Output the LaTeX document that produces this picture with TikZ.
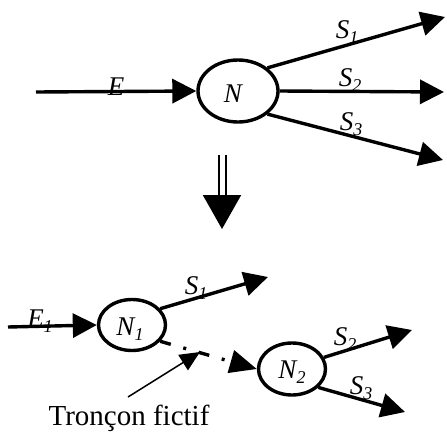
\documentclass[tikz,border=0pt]{standalone}
\usepackage{fontspec}
\setmainfont{Liberation Serif}
\usepackage{tikz}
\usetikzlibrary{arrows.meta,positioning,shapes.geometric}
\definecolor{flowblack}{HTML}{000000}
\newcommand\sublbl[2]{#1\raisebox{-0.35ex}{\fontsize{18}{18}\selectfont #2}}

\begin{document}
\begin{tikzpicture}[
    x=1pt,
    y=-1pt,
    knot/.style={ellipse, draw=flowblack, line width=3.4pt, inner sep=0pt},
    lbl/.style={font=\fontsize{27}{29}\selectfont\itshape, inner sep=0pt},
    flow/.style={-{Triangle[length=24pt,width=24pt]}, line width=3.4pt, draw=flowblack},
    fictive/.style={-{Triangle[length=27pt,width=23pt]}, line width=3.4pt, draw=flowblack, dash pattern=on 11pt off 13pt on 3pt off 13pt},
    pointer/.style={-{Triangle[length=20pt,width=18pt]}, line width=1.5pt, draw=flowblack}
  ]
    \useasboundingbox (0,0) rectangle (447,434);

    % before the split
    \node[lbl] (lE) at (116,87) {E};
    \node[lbl] (lS1) at (347,32) {\sublbl{S}{1}};
    \node[lbl] (lS2) at (350,80) {\sublbl{S}{2}};
    \node[lbl] (lS3) at (351,124) {\sublbl{S}{3}};
    \node[knot, minimum width=80pt, minimum height=62pt] (N) at (238,91) {};
    \node[lbl] (lN) at (233,94) {N};

    \coordinate (eIn) at (36,92);
    \coordinate (s1Out) at (445,17);
    \coordinate (s2Out) at (444,92);
    \coordinate (s3Out) at (443,160);

    \draw[flow] (eIn) -- (N.west);
    \draw[flow] (N.north east) -- (s1Out);
    \draw[flow] (N.east) -- (s2Out);
    \draw[flow] (N.south east) -- (s3Out);

    % implication
    \coordinate (implTop) at (222,155);
    \coordinate (implBot) at (222,229);
    \draw[-{Triangle[length=34pt,width=38pt]}, double=white, double distance=5pt, line width=2pt, draw=flowblack] (implTop) -- (implBot);

    % after the split
    \node[lbl] (lE1) at (40,321) {\sublbl{E}{1}};
    \node[lbl] (lS1b) at (196,288) {\sublbl{S}{1}};
    \node[lbl] (lS2b) at (345,339) {\sublbl{S}{2}};
    \node[lbl] (lS3b) at (361,388) {\sublbl{S}{3}};
    \node[knot, minimum width=67pt, minimum height=51pt] (N1) at (132,325) {};
    \node[lbl] (lN1) at (130,329) {\sublbl{N}{1}};
    \node[knot, minimum width=67pt, minimum height=52pt] (N2) at (292,369) {};
    \node[lbl] (lN2) at (292,372) {\sublbl{N}{2}};

    \coordinate (e1In) at (8,327);
    \coordinate (s1bOut) at (268,277);
    \coordinate (s2bOut) at (412,330);
    \coordinate (s3bOut) at (405,412);

    \draw[flow] (e1In) -- (N1.west);
    \draw[flow] (N1.30) -- (s1bOut);
    \draw[fictive] (N1.-30) -- (N2.west);
    \draw[flow] (N2.20) -- (s2bOut);
    \draw[flow] (N2.-35) -- (s3bOut);

    \node[font=\fontsize{29}{32}\selectfont, inner sep=0pt] (tronc) at (129,418) {Tronçon fictif};
    \coordinate (ptrTail) at (128,397);
    \coordinate (ptrTip) at (200,352);
    \draw[pointer] (ptrTail) -- (ptrTip);
  \end{tikzpicture}
\end{document}
